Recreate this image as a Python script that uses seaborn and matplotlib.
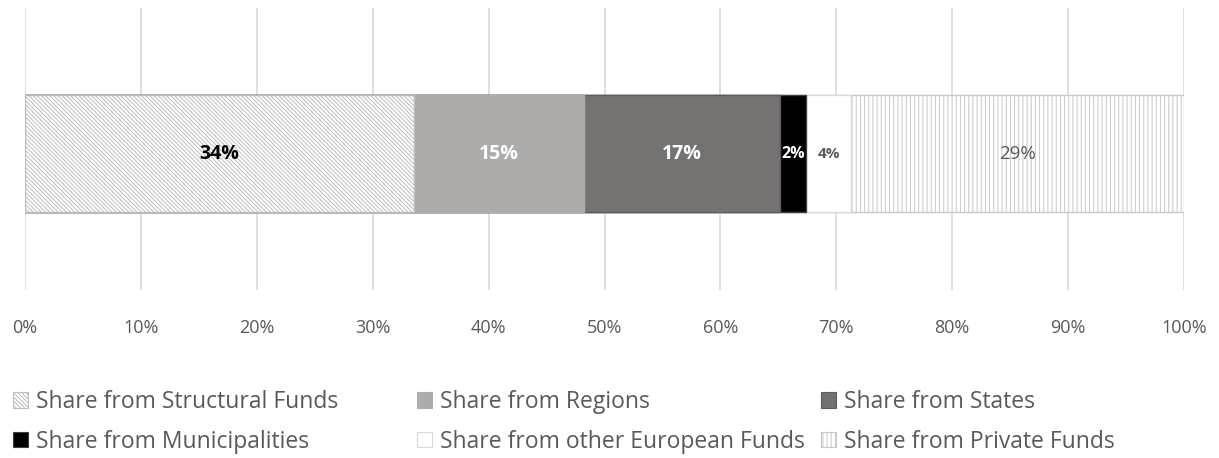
import numpy as np
import matplotlib
matplotlib.use("Agg")
import matplotlib.pyplot as plt
from matplotlib.patches import Patch
import seaborn as sns

# shares of total funding, in percent
sources = ["Share from Structural Funds", "Share from Regions", "Share from States",
           "Share from Municipalities", "Share from other European Funds", "Share from Private Funds"]
shares = [33.6, 14.6, 16.9, 2.3, 3.9, 28.7]
ticks = [0, 10, 20, 30, 40, 50, 60, 70, 80, 90, 100]

faces = ["white", "#aeabab", "#767171", "black", "white", "white"]
edges = ["#bdbdbd", "#aeabab", "#5f5b5b", "#404040", "#d9d9d9", "#c8c8c8"]
hatches = ["\\" * 8, "", "", "", "", "|" * 4]
lab_colors = ["black", "white", "white", "white", "#595959", "#595959"]
lab_weights = ["bold", "bold", "bold", "bold", "bold", "normal"]
lab_sizes = [14, 14, 14, 11.5, 11, 13.5]

sns.set_style("white")
plt.rcParams["font.family"] = ["Open Sans", "DejaVu Sans"]
plt.rcParams["hatch.linewidth"] = 0.7

fig = plt.figure(figsize=(12.19, 4.58), dpi=100)
ax = fig.add_axes([25 / 1219, 1 - 290 / 458, (1184 - 25) / 1219, 282 / 458])

cum = np.cumsum(shares)
# stacked bar: draw cumulative totals from the longest down, each one from 0
for i in reversed(range(len(shares))):
    sns.barplot(x=[cum[i]], y=["all"], orient="h", color=faces[i], width=0.83,
                edgecolor=edges[i], hatch=hatches[i], linewidth=1.0, ax=ax, zorder=2)

starts = cum - np.array(shares)
for i, v in enumerate(shares):
    ax.text(starts[i] + v / 2, 0, f"{round(v)}%", ha="center", va="center",
            color=lab_colors[i], fontweight=lab_weights[i], fontsize=lab_sizes[i], zorder=5)

ax.set_xlim(0, 100)
ax.set_ylim(0.968, -1.032)
ax.set_xticks(ticks)
ax.set_xticklabels([f"{t}%" for t in ticks])
ax.set_yticks([])
ax.set_xlabel("")
ax.set_ylabel("")
ax.grid(axis="x", color="#d9d9d9", linewidth=1.2, zorder=0)
ax.set_axisbelow(True)
for s in ax.spines.values():
    s.set_visible(False)
ax.tick_params(axis="x", length=0, pad=21, labelsize=13, labelcolor="#595959")

# legend: three columns of two rows, Excel style
handles = [Patch(facecolor=faces[i], edgecolor=edges[i], hatch=hatches[i], linewidth=0.8)
           for i in range(len(sources))]
col_x = [13, 417, 821]
for c in range(3):
    idx = [c, c + 3]
    lg = fig.legend([handles[k] for k in idx], [sources[k] for k in idx],
                    loc="upper left", bbox_to_anchor=(col_x[c] / 1219, 1 - 390 / 458),
                    frameon=False, fontsize=16.5, handlelength=0.65, handleheight=0.65,
                    handletextpad=0.35, labelspacing=0.68, borderaxespad=0, borderpad=0,
                    labelcolor="#595959")

fig.savefig("out.png", dpi=100)
